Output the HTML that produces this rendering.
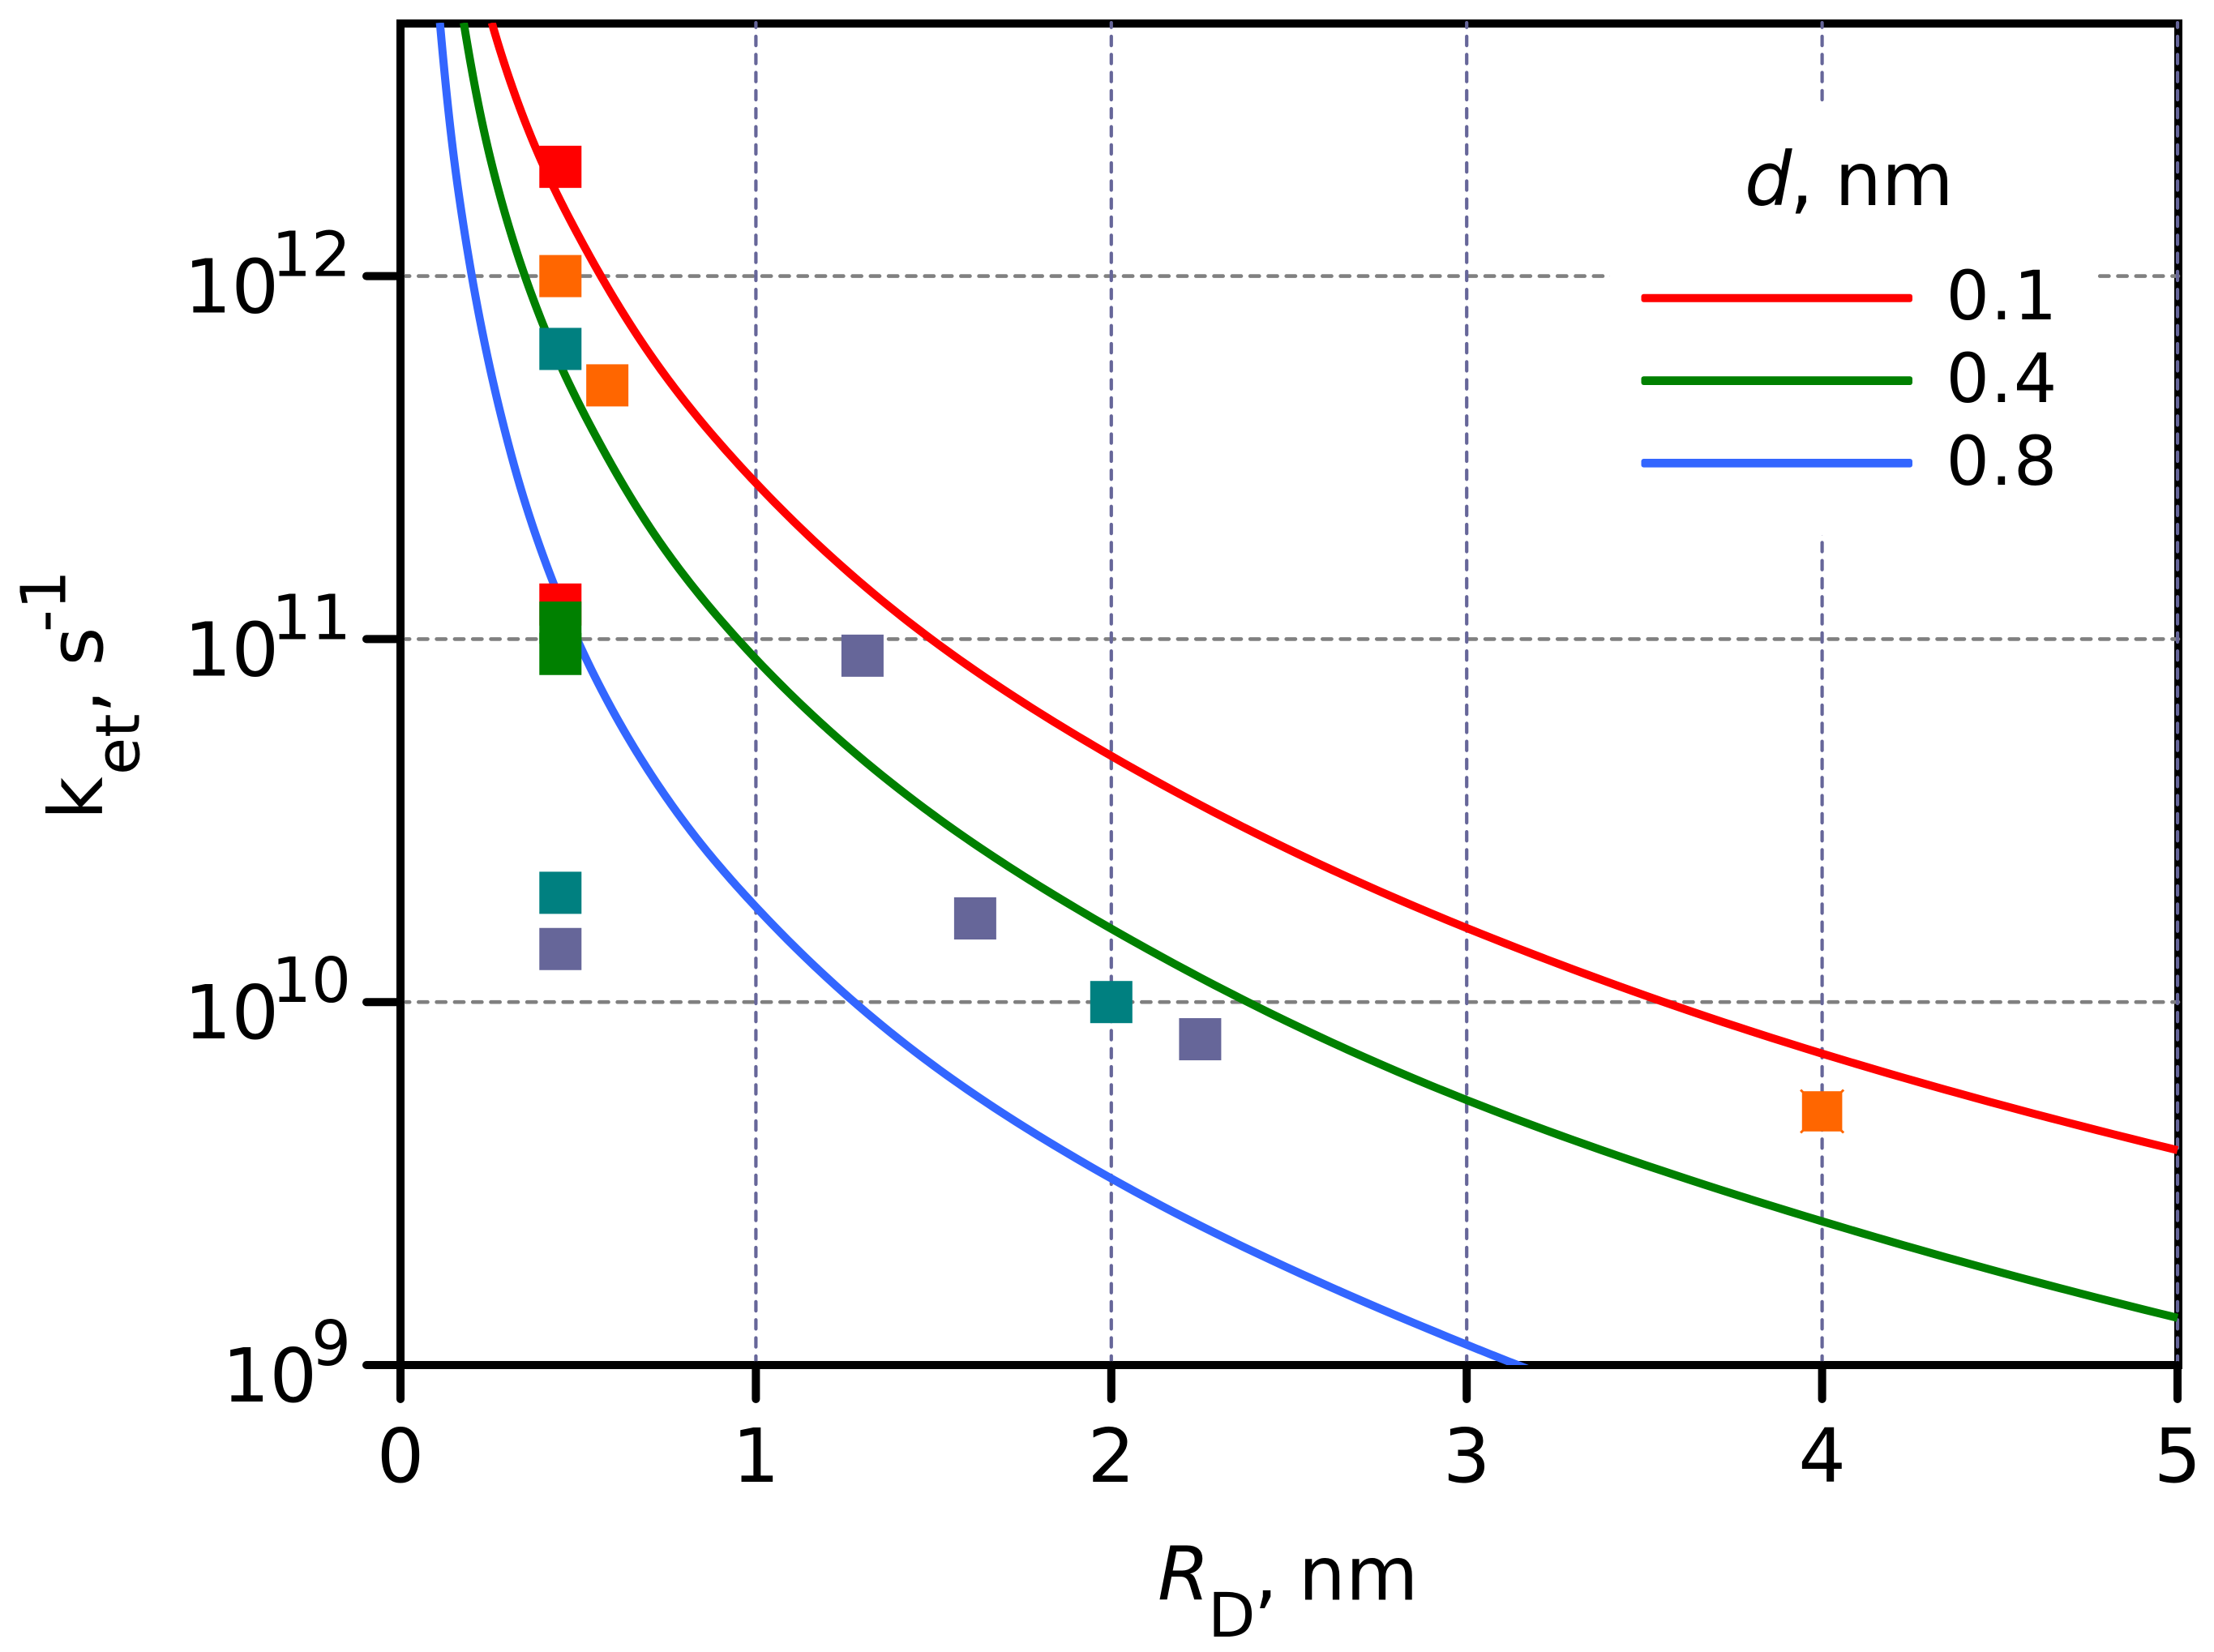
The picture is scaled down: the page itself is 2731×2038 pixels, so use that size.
<!DOCTYPE html>
<html lang="en">
<head>
<meta charset="utf-8">
<title>Electron transfer rate versus donor radius</title>
<style>
  html, body { margin: 0; padding: 0; background: #ffffff; }
  svg { display: block; }
  text { font-family: "DejaVu Sans", "Liberation Sans", sans-serif; fill: #000000; }
</style>
</head>
<body>
<svg id="chart" xmlns="http://www.w3.org/2000/svg" width="2731" height="2038" viewBox="0 0 2731 2038">
  <defs>
    <clipPath id="plot-clip"><rect x="489" y="28" width="2203" height="1656"></rect></clipPath>
  </defs>
  <rect x="0" y="0" width="2731" height="2038" fill="#ffffff"></rect>
  <g id="spines" fill="none" stroke="#000000" stroke-width="10">
    <line x1="489" y1="29" x2="2692" y2="29"></line>
    <line x1="2687" y1="24" x2="2687" y2="1689"></line>
    <line x1="489" y1="1684" x2="2692" y2="1684"></line>
    <line x1="494" y1="24" x2="494" y2="1689"></line>
  </g>
  <g id="grid"></g>
  <rect x="1986" y="128.6" width="599" height="531.4" fill="#ffffff"></rect>
  <g id="ticks"></g>
  <g id="curves" clip-path="url(#plot-clip)"></g>
  <g id="markers"></g>
  <g id="tick-labels"></g>

  <g>
    <text x="1428" y="1973.3" font-size="92" font-style="italic">R</text>
    <text x="1490" y="2019" font-size="76">D</text>
    <text x="1547" y="1973.3" font-size="92">,</text>
    <text x="1601.6" y="1973.3" font-size="92">nm</text>
  </g>
  <g>
    <text transform="translate(126,1011.5) rotate(-90)" font-size="92">k</text>
    <text transform="translate(171.7,956) rotate(-90)" font-size="75">et</text>
    <text transform="translate(126,880) rotate(-90)" font-size="92">, s</text>
    <text transform="translate(80.7,780) rotate(-90)" font-size="77">-1</text>
  </g>

  <g>
    <text x="2152" y="253" font-size="92" font-style="italic">d</text>
    <text x="2207.6" y="253" font-size="92">,</text>
    <text x="2263.3" y="253" font-size="91">nm</text>
    <rect x="2024.5" y="362.8" width="334.5" height="10" rx="3" fill="#ff0000"></rect>
    <rect x="2024.5" y="464.2" width="334.5" height="10.8" rx="3" fill="#008000"></rect>
    <rect x="2024.5" y="566" width="334.5" height="10.6" rx="3" fill="#3366ff"></rect>
    <text x="2400.5" y="394" font-size="84" letter-spacing="1.6">0.1</text>
    <text x="2400.5" y="496" font-size="84" letter-spacing="1.6">0.4</text>
    <text x="2400.5" y="598" font-size="84" letter-spacing="1.6">0.8</text>
  </g>
</svg>

<script>
// Axis tick data
const xTickValues = [0, 1, 2, 3, 4, 5];
const xTickLabels = ["0", "1", "2", "3", "4", "5"];
const yTickValues = [1e9, 1e10, 1e11, 1e12];
const yTickBase = ["10", "10", "10", "10"];
const yTickExponents = ["9", "10", "11", "12"];
const xGridValues = [1, 2, 3, 4, 5];
const yGridValues = [1e10, 1e11, 1e12];

// Curves: R_D in nm and log10 of k_et
const redR = [0.257, 0.375, 0.516, 0.744, 1.0, 1.5, 2.0, 3.0, 4.0, 5.0];
const redLogK = [12.698, 12.366, 12.084, 11.727, 11.43, 10.995, 10.678, 10.204, 9.858, 9.592];
const greenR = [0.178, 0.234, 0.317, 0.408, 0.554, 0.736, 1.0, 1.5, 2.0, 3.0, 4.0, 5.0];
const greenLogK = [12.698, 12.404, 12.098, 11.85, 11.551, 11.258, 10.945, 10.515, 10.202, 9.73, 9.396, 9.13];
const blueR = [0.111, 0.146, 0.192, 0.24, 0.287, 0.34, 0.428, 0.651, 0.826, 1.0, 1.5, 2.0, 3.0, 3.17];
const blueLogK = [12.698, 12.36, 12.05, 11.8, 11.6, 11.41, 11.16, 10.711, 10.46, 10.262, 9.825, 9.514, 9.056, 8.99];

// Scatter points, one pair of arrays per colour
const redPointR = [0.45, 0.45];
const redPointK = [2e12, 1.245e11];
const orangePointR = [0.45, 0.582];
const orangePointK = [1e12, 5e11];
const tealPointR = [0.45, 0.45, 2.0];
const tealPointK = [6.3e11, 2e10, 1e10];
const greenPointR = [0.45, 0.45];
const greenPointK = [1.11e11, 9.1e10];
const purplePointR = [0.45, 1.3, 1.617, 2.25];
const purplePointK = [1.4e10, 9e10, 1.7e10, 7.9e9];
const crossPointR = [4.0];
const crossPointK = [5e9];

const SVG_NS = "http://www.w3.org/2000/svg";
function xPos(r) { return 494 + r * 438.4; }
function yPos(k) { return 1684 - (Math.log10(k) - 9) * 447.8; }

function make(parent, tag, props) {
  const el = document.createElementNS(SVG_NS, tag);
  for (const key in props) el.setAttribute(key, props[key]);
  parent.appendChild(el);
  return el;
}

const gridGroup = document.getElementById("grid");
const ticksGroup = document.getElementById("ticks");
const curvesGroup = document.getElementById("curves");
const markersGroup = document.getElementById("markers");
const labelsGroup = document.getElementById("tick-labels");

yGridValues.forEach(function (v) {
  const el = make(gridGroup, "line", { x1: 494, x2: 2687, y1: yPos(v), y2: yPos(v), stroke: "#808080", "stroke-width": 4.6, "stroke-dasharray": "11.2 11.1", "stroke-linecap": "round" });
  
  
});
xGridValues.forEach(function (v) {
  const el = make(gridGroup, "line", { x1: xPos(v), x2: xPos(v), y1: 1684, y2: 28, stroke: "#666699", "stroke-width": 4.2, "stroke-dasharray": "11.2 11.1", "stroke-linecap": "round" });
  
  
});

xTickValues.forEach(function (v, i) {
  const tick = make(ticksGroup, "line", { x1: xPos(v), x2: xPos(v), y1: 1684, y2: 1726, stroke: "#000000", "stroke-width": 10, "stroke-linecap": "round" });
  
  
  const label = make(labelsGroup, "text", { x: xPos(v), y: 1828, "font-size": 92, "text-anchor": "middle" });
  label.textContent = xTickLabels[i];
  
  
});

yTickValues.forEach(function (v, i) {
  const tick = make(ticksGroup, "line", { x1: 452, x2: 494, y1: yPos(v), y2: yPos(v), stroke: "#000000", "stroke-width": 10, "stroke-linecap": "round" });
  
  
  const digits = yTickExponents[i].length;
  const supWidth = digits * 0.636 * 77;
  const base = make(labelsGroup, "text", { x: 433 - supWidth + 7 + (digits - 1) * 2, y: yPos(v) + 45, "font-size": 92, "text-anchor": "end" });
  base.textContent = yTickBase[i];
  
  
  const sup = make(labelsGroup, "text", { x: 433, y: yPos(v), "font-size": 77, "text-anchor": "end" });
  sup.textContent = yTickExponents[i];
  
  
});

// Smooth line through the read points: cubic Hermite in log-log space, then mapped through the axis functions
function curvePath(rs, logs) {
  const u = rs.map(function (r) { return Math.log10(r); });
  const n = u.length;
  const slopes = [];
  for (let i = 0; i < n; i++) {
    if (i === 0) {
      slopes.push((logs[1] - logs[0]) / (u[1] - u[0]));
    } else if (i === n - 1) {
      slopes.push((logs[n - 1] - logs[n - 2]) / (u[n - 1] - u[n - 2]));
    } else {
      const h0 = u[i] - u[i - 1];
      const h1 = u[i + 1] - u[i];
      slopes.push((((logs[i + 1] - logs[i]) / h1) * h0 + ((logs[i] - logs[i - 1]) / h0) * h1) / (h0 + h1));
    }
  }
  let d = "M" + xPos(rs[0]).toFixed(2) + " " + yPos(Math.pow(10, logs[0])).toFixed(2);
  const steps = 24;
  for (let i = 0; i < n - 1; i++) {
    const h = u[i + 1] - u[i];
    for (let s = 1; s <= steps; s++) {
      const t = s / steps;
      const t2 = t * t;
      const t3 = t2 * t;
      const v = (2 * t3 - 3 * t2 + 1) * logs[i] + (t3 - 2 * t2 + t) * h * slopes[i] + (-2 * t3 + 3 * t2) * logs[i + 1] + (t3 - t2) * h * slopes[i + 1];
      const r = Math.pow(10, u[i] + t * h);
      d += "L" + xPos(r).toFixed(2) + " " + yPos(Math.pow(10, v)).toFixed(2);
    }
  }
  return d;
}

const blueCurve = make(curvesGroup, "path", { d: curvePath(blueR, blueLogK), fill: "none", stroke: "#3366ff", "stroke-width": 10, "stroke-linejoin": "round" });


const greenCurve = make(curvesGroup, "path", { d: curvePath(greenR, greenLogK), fill: "none", stroke: "#008000", "stroke-width": 10, "stroke-linejoin": "round" });


const redCurve = make(curvesGroup, "path", { d: curvePath(redR, redLogK), fill: "none", stroke: "#ff0000", "stroke-width": 10, "stroke-linejoin": "round" });



function squares(rs, ks, color, name) {
  rs.forEach(function (r, i) {
    const el = make(markersGroup, "rect", { x: xPos(r) - 26, y: yPos(ks[i]) - 26, width: 52, height: 52, fill: color });
    
    
  });
}
squares(redPointR, redPointK, "#ff0000", "data-point-red");
squares(orangePointR, orangePointK, "#ff6600", "data-point-orange");
squares(tealPointR, tealPointK, "#008080", "data-point-teal");
squares(greenPointR, greenPointK, "#008000", "data-point-green");
squares(purplePointR, purplePointK, "#666699", "data-point-purple");

crossPointR.forEach(function (r, i) {
  const cx = xPos(r);
  const cy = yPos(crossPointK[i]);
  const crossA = make(markersGroup, "line", { x1: cx - 26.5, y1: cy - 26.5, x2: cx + 26.5, y2: cy + 26.5, stroke: "#ff6600", "stroke-width": 3 });
  
  
  const crossB = make(markersGroup, "line", { x1: cx - 26.5, y1: cy + 26.5, x2: cx + 26.5, y2: cy - 26.5, stroke: "#ff6600", "stroke-width": 3 });
  
  
  const box = make(markersGroup, "rect", { x: cx - 24.8, y: cy - 24.8, width: 49.6, height: 49.6, fill: "#ff6600" });
  
  
});
</script>
</body>
</html>
